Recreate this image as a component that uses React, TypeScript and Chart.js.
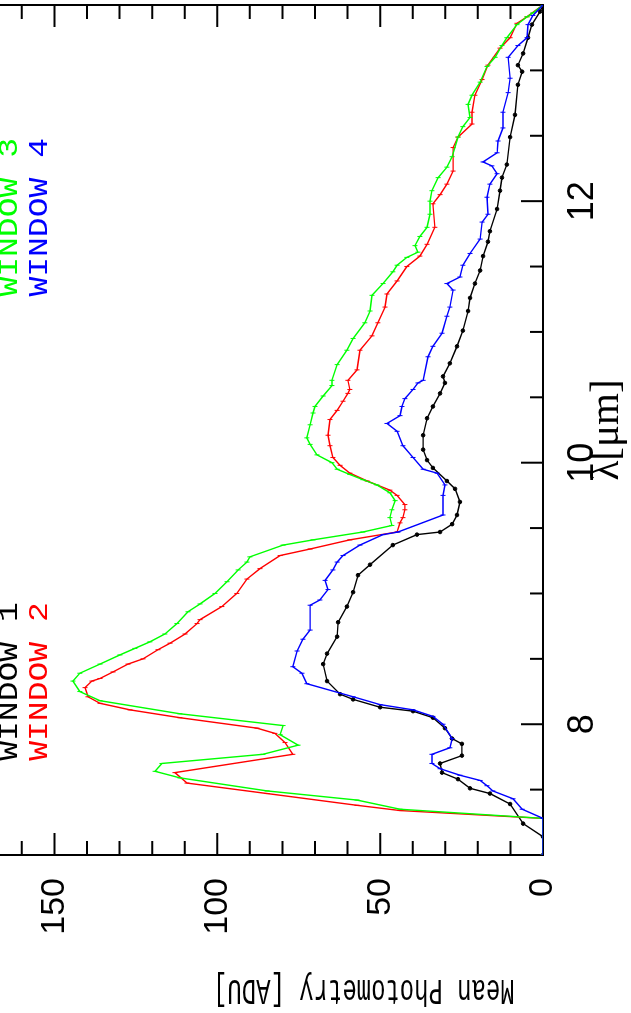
import React, { useEffect, useRef } from "react";
import { Chart, registerables } from "chart.js";

Chart.register(...registerables);

// ---- data: [wavelength (micron), mean photometry (ADU)] ----
const window1: [number, number][] = [
  [7.0, 0], [7.14, 0], [7.24, 6.1], [7.39, 10.1], [7.47, 16.3], [7.51, 22.4], [7.58, 26.1], [7.63, 31.0],
  [7.7, 31.6], [7.76, 24.9], [7.85, 24.9], [7.89, 27.9], [7.97, 30.1], [8.05, 33.8], [8.1, 39.9], [8.13, 50.0],
  [8.19, 58.3], [8.23, 62.3], [8.33, 66.3], [8.46, 67.5], [8.54, 66.3], [8.67, 63.2], [8.78, 62.9], [8.9, 60.2],
  [9.01, 58.3], [9.14, 56.8], [9.22, 53.1], [9.37, 46.1], [9.45, 38.7], [9.47, 31.6], [9.53, 27.9], [9.6, 26.4],
  [9.7, 25.5], [9.8, 27.0], [9.86, 29.5], [9.96, 33.8], [10.02, 35.6], [10.1, 36.8], [10.21, 36.8], [10.34, 35.6],
  [10.43, 33.8], [10.53, 31.6], [10.61, 30.1], [10.66, 30.7], [10.76, 28.6], [10.89, 26.4], [11.01, 24.6],
  [11.16, 23.0], [11.26, 22.4], [11.37, 20.9], [11.47, 19.3], [11.58, 18.4], [11.69, 16.9], [11.77, 16.3],
  [11.94, 14.1], [12.08, 13.2], [12.18, 12.6], [12.28, 11.1], [12.49, 10.1], [12.66, 8.6], [12.89, 7.7],
  [12.99, 6.4], [13.04, 7.7], [13.13, 6.1], [13.25, 4.6], [13.35, 3.4], [13.45, 0.9], [13.5, 0],
];

const window2: [number, number][] = [
  [7.0, 0], [7.28, 0], [7.34, 43.9], [7.38, 57.1], [7.47, 84.7], [7.55, 109.3], [7.63, 113.0], [7.77, 76.8],
  [7.86, 79.2], [7.93, 82.3], [7.97, 87.8], [8.05, 111.5], [8.11, 126.8], [8.16, 136.0], [8.21, 139.7],
  [8.28, 140.6], [8.33, 138.5], [8.35, 136.0], [8.4, 132.0], [8.46, 127.4], [8.5, 122.8], [8.57, 118.2],
  [8.62, 114.5], [8.69, 109.9], [8.77, 106.2], [8.8, 105.3], [8.9, 98.6], [9.0, 94.0], [9.11, 90.9],
  [9.19, 86.9], [9.29, 80.7], [9.34, 71.5], [9.41, 59.3], [9.47, 44.8], [9.54, 43.9], [9.58, 43.0],
  [9.64, 42.4], [9.68, 42.4], [9.75, 44.8], [9.79, 47.0], [9.86, 54.0], [9.92, 59.3], [9.98, 62.3],
  [10.04, 64.5], [10.13, 65.4], [10.21, 66.0], [10.33, 65.4], [10.4, 63.2], [10.47, 61.4], [10.53, 59.9],
  [10.56, 59.3], [10.63, 59.9], [10.71, 57.1], [10.86, 56.2], [10.97, 52.5], [11.07, 50.7], [11.19, 48.5],
  [11.29, 47.9], [11.39, 44.8], [11.5, 41.8], [11.58, 37.8], [11.67, 35.6], [11.8, 33.2], [11.98, 33.8],
  [12.05, 31.6], [12.13, 29.5], [12.23, 27.6], [12.41, 27.6], [12.49, 26.1], [12.59, 21.8], [12.68, 21.8],
  [12.81, 20.9], [12.93, 18.7], [13.04, 16.9], [13.17, 13.2], [13.25, 10.1], [13.36, 8.0], [13.41, 4.9],
  [13.5, 0],
];

const window3: [number, number][] = [
  [7.0, 0], [7.28, 0], [7.35, 43.9], [7.42, 57.1], [7.49, 84.7], [7.59, 111.5], [7.64, 119.1], [7.7, 117.0],
  [7.77, 86.0], [7.84, 75.2], [7.92, 80.7], [7.99, 79.8], [8.08, 111.5], [8.18, 136.0], [8.25, 142.2],
  [8.33, 144.3], [8.39, 142.2], [8.46, 136.0], [8.53, 129.9], [8.58, 125.3], [8.63, 120.7], [8.69, 116.1],
  [8.77, 112.4], [8.86, 109.0], [8.92, 105.3], [9.0, 100.7], [9.09, 97.0], [9.18, 93.6], [9.24, 90.9],
  [9.28, 90.0], [9.37, 79.8], [9.41, 70.6], [9.47, 55.3], [9.52, 46.4], [9.58, 47.0], [9.64, 46.4],
  [9.71, 45.4], [9.77, 47.0], [9.83, 51.0], [9.87, 55.3], [9.91, 59.3], [9.95, 63.2], [10.0, 64.8],
  [10.06, 69.4], [10.14, 71.5], [10.19, 72.5], [10.29, 71.5], [10.38, 70.6], [10.43, 70.0], [10.51, 67.5],
  [10.59, 64.8], [10.63, 64.8], [10.75, 63.2], [10.86, 60.2], [10.95, 58.3], [11.07, 54.7], [11.16, 53.1],
  [11.28, 52.5], [11.37, 49.1], [11.46, 46.1], [11.51, 44.8], [11.57, 41.8], [11.61, 38.4], [11.66, 39.3],
  [11.73, 37.8], [11.8, 35.6], [11.9, 34.7], [12.0, 34.7], [12.08, 34.1], [12.18, 32.2], [12.26, 29.5],
  [12.34, 27.9], [12.49, 26.1], [12.57, 24.6], [12.64, 22.4], [12.74, 23.0], [12.81, 21.8], [12.91, 19.3],
  [13.03, 17.2], [13.1, 14.7], [13.19, 12.6], [13.25, 11.1], [13.35, 8.0], [13.41, 4.9], [13.44, 3.1],
  [13.5, 0],
];

const window4: [number, number][] = [
  [7.0, 0], [7.28, 0], [7.35, 6.4], [7.43, 9.2], [7.49, 15.4], [7.53, 17.2], [7.57, 19.3], [7.61, 25.5],
  [7.66, 31.6], [7.7, 34.1], [7.77, 34.1], [7.82, 28.6], [7.89, 27.9], [8.0, 30.7], [8.06, 33.8], [8.11, 39.9],
  [8.15, 50.0], [8.21, 58.3], [8.31, 72.5], [8.39, 74.0], [8.44, 76.8], [8.56, 75.5], [8.65, 73.7],
  [8.72, 71.5], [8.91, 71.5], [8.95, 68.5], [9.03, 66.0], [9.1, 66.9], [9.18, 64.5], [9.24, 63.2],
  [9.29, 61.4], [9.37, 56.2], [9.45, 49.1], [9.47, 44.5], [9.6, 30.7], [9.75, 30.7], [9.83, 30.1],
  [9.92, 32.5], [9.95, 36.8], [10.04, 39.9], [10.13, 43.0], [10.24, 44.8], [10.3, 47.9], [10.36, 43.9],
  [10.43, 43.3], [10.49, 42.4], [10.56, 39.9], [10.61, 38.4], [10.63, 36.8], [10.81, 35.3], [10.89, 33.8],
  [10.99, 31.0], [11.12, 29.5], [11.19, 28.6], [11.32, 27.6], [11.37, 29.5], [11.42, 25.5], [11.51, 24.6],
  [11.6, 22.4], [11.71, 19.3], [11.84, 18.7], [11.9, 16.9], [12.03, 17.2], [12.13, 16.3], [12.21, 14.1],
  [12.27, 15.7], [12.3, 18.4], [12.37, 14.1], [12.46, 13.8], [12.56, 12.3], [12.68, 12.3], [12.83, 10.7],
  [12.94, 10.1], [13.1, 10.7], [13.19, 7.7], [13.25, 4.9], [13.35, 4.6], [13.42, 3.1], [13.5, 0],
];

const seriesNames = ["WINDOW 1", "WINDOW 2", "WINDOW 3", "WINDOW 4"];
const seriesColors = ["#000000", "#ff0000", "#00ff00", "#0000ff"];
const seriesData = [window1, window2, window3, window4];

const xTickValues = [8, 10, 12];
const xTickLabels = ["8", "10", "12"];
const yTickValues = [0, 50, 100, 150];
const yTickLabels = ["0", "50", "100", "150"];
const xTitle = "λ[μm]";
const yTitle = "Mean Photometry [ADU]";

// unrotated canvas size; the whole drawing is turned 90° counter-clockwise
const CW = 1013;
const CH = 671;
const SHIFT = 40;

function drawText(
  ctx: CanvasRenderingContext2D,
  s: string,
  x: number,
  y: number,
  o: { font: string; color?: string; align?: CanvasTextAlign; baseline?: CanvasTextBaseline; rot?: number; sx?: number; sy?: number }
) {
  ctx.save();
  ctx.translate(x, y);
  ctx.rotate(o.rot || 0);
  ctx.scale(o.sx || 1, o.sy || 1);
  ctx.font = o.font;
  ctx.fillStyle = o.color || "#000";
  ctx.textAlign = o.align || "left";
  ctx.textBaseline = o.baseline || "alphabetic";
  ctx.fillText(s, 0, 0);
  ctx.restore();
}

const framePlugin = {
  id: "pgframe",
  beforeDatasetsDraw(chart: any) {
    const { ctx, chartArea: a, scales } = chart;
    const x = scales.x;
    const y = scales.y;
    ctx.save();
    ctx.strokeStyle = "#000";
    ctx.lineWidth = 2;
    ctx.lineCap = "butt";
    ctx.strokeRect(a.left, a.top, a.right - a.left, a.bottom - a.top);
    ctx.beginPath();
    for (let i = 0; i <= 13; i++) {
      const v = 7 + i * 0.5;
      const px = x.getPixelForValue(v);
      const major = Math.abs(v / 2 - Math.round(v / 2)) < 1e-6;
      const len = major ? 22 : 13;
      ctx.moveTo(px, a.bottom);
      ctx.lineTo(px, a.bottom - len);
      ctx.moveTo(px, a.top);
      ctx.lineTo(px, a.top + len);
    }
    for (let v = 0; v <= 175; v += 10) {
      const py = y.getPixelForValue(v);
      const major = v % 50 === 0;
      const len = major ? 22 : 14;
      ctx.moveTo(a.left, py);
      ctx.lineTo(a.left + len, py);
      ctx.moveTo(a.right, py);
      ctx.lineTo(a.right - len, py);
    }
    ctx.stroke();
    ctx.restore();
  },
  afterDraw(chart: any) {
    const { ctx, chartArea: a, scales } = chart;
    const x = scales.x;
    const y = scales.y;
    // value tick labels
    yTickValues.forEach((v, i) => {
      drawText(ctx, yTickLabels[i], a.left - 23, y.getPixelForValue(v), {
        font: "34px 'Liberation Sans'",
        align: "right",
        baseline: "middle",
      });
    });
    // wavelength tick labels
    xTickValues.forEach((v, i) => {
      drawText(ctx, xTickLabels[i], x.getPixelForValue(v), a.bottom + 50, {
        font: "36px 'Liberation Sans'",
        align: "center",
        baseline: "alphabetic",
      });
    });
    // axis titles
    drawText(ctx, xTitle, (a.left + a.right) / 2, a.bottom + 75, {
      font: "41px 'Liberation Serif'",
      align: "center",
    });
    drawText(ctx, yTitle, 33, y.getPixelForValue(55), {
      font: "26px 'Liberation Mono'",
      align: "center",
      rot: -Math.PI / 2,
      sx: 0.92,
      sy: 1.4,
    });
    // series labels
    const labelPos: [number, number][] = [
      [7.72, 161.5],
      [7.72, 152.3],
      [11.27, 161.5],
      [11.27, 152.3],
    ];
    seriesNames.forEach((n, i) => {
      drawText(ctx, n, x.getPixelForValue(labelPos[i][0]), y.getPixelForValue(labelPos[i][1]), {
        font: "28px 'Liberation Mono'",
        color: seriesColors[i],
        sx: 1.18,
      });
    });
  },
};

export default function App() {
  const ref = useRef<HTMLCanvasElement | null>(null);
  useEffect(() => {
    if (!ref.current) return;
    const chart = new Chart(ref.current, {
      type: "scatter",
      data: {
        datasets: seriesData.map((s, i) => ({
          label: seriesNames[i],
          data: s.map(([lx, ly]) => ({ x: lx, y: ly })),
          showLine: true,
          borderColor: seriesColors[i],
          backgroundColor: seriesColors[i],
          pointBackgroundColor: seriesColors[i],
          pointBorderColor: seriesColors[i],
          borderWidth: 1.4,
          tension: 0,
          pointRadius: i === 0 ? 1.8 : 2.5,
          pointStyle: i === 0 ? "circle" : "line",
          rotation: i === 0 ? 0 : 90,
          pointBorderWidth: 1,
          order: 3 - i,
        })),
      },
      options: {
        animation: false,
        responsive: false,
        events: [],
        layout: { padding: { left: 158, right: 1, top: 13, bottom: 88 } },
        plugins: { legend: { display: false }, tooltip: { enabled: false } },
        scales: {
          x: { type: "linear", min: 7, max: 13.5, display: false },
          y: { type: "linear", min: 0, max: 175, display: false },
        },
      },
      plugins: [framePlugin],
    });
    return () => chart.destroy();
  }, []);

  return (
    <div
      style={{
        position: "fixed",
        left: 0,
        top: 0,
        width: 631,
        height: 1013,
        overflow: "hidden",
        background: "#fff",
      }}
    >
      <div
        style={{
          position: "absolute",
          left: 0,
          top: 0,
          width: CW,
          height: CH,
          transformOrigin: "0 0",
          transform: `translate(${-SHIFT}px, ${CW}px) rotate(-90deg)`,
        }}
      >
        <canvas ref={ref} width={CW} height={CH} style={{ display: "block", width: CW, height: CH }} />
      </div>
    </div>
  );
}
